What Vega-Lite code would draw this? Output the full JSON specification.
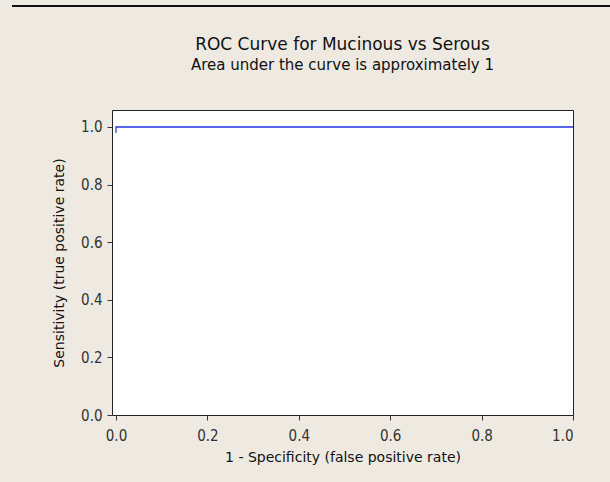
{
  "$schema": "https://vega.github.io/schema/vega-lite/v6.json",
  "width": 461,
  "height": 305,
  "autosize": "none",
  "padding": {"left": 112, "top": 110, "right": 37, "bottom": 67},
  "background": "#EEEAE1",
  "title": {
    "text": "ROC Curve for Mucinous vs Serous",
    "subtitle": "Area under the curve is approximately 1",
    "anchor": "middle",
    "offset": -69,
    "font": "DejaVu Sans",
    "fontSize": 17,
    "fontWeight": "normal",
    "color": "#111111",
    "subtitleFont": "DejaVu Sans",
    "subtitleFontSize": 15,
    "subtitleColor": "#111111",
    "subtitlePadding": 4
  },
  "config": {
    "view": {"stroke": "#222222", "strokeWidth": 1, "fill": "#FFFFFF"},
    "axis": {
      "grid": false,
      "domain": false,
      "tickColor": "#333333",
      "tickSize": 5,
      "labelFont": "DejaVu Sans Condensed",
      "labelFontSize": 15,
      "labelColor": "#333333",
      "titleFont": "DejaVu Sans",
      "titleFontSize": 14,
      "titleFontWeight": "normal",
      "titleColor": "#111111"
    }
  },
  "datasets": {
    "roc": [
      {"fpr": 0.0, "tpr": 0.98},
      {"fpr": 0.0, "tpr": 1.0},
      {"fpr": 1.0, "tpr": 1.0}
    ]
  },
  "layer": [
    {
      "data": {"name": "roc"},
      "mark": {"type": "line", "color": "#2233E6", "strokeWidth": 1.3, "clip": true},
      "encoding": {
        "x": {
          "field": "fpr",
          "type": "quantitative",
          "scale": {"domain": [-0.00875, 1.0], "nice": false, "zero": false},
          "axis": {
            "title": "1 - Specificity (false positive rate)",
            "values": [0, 0.2, 0.4, 0.6, 0.8, 1.0],
            "format": ".1f",
            "titlePadding": 7,
            "labelPadding": 8
          }
        },
        "y": {
          "field": "tpr",
          "type": "quantitative",
          "scale": {"domain": [0.0, 1.059], "nice": false, "zero": false},
          "axis": {
            "title": "Sensitivity (true positive rate)",
            "values": [0, 0.2, 0.4, 0.6, 0.8, 1.0],
            "format": ".1f",
            "titlePadding": 14,
            "labelPadding": 5
          }
        },
        "order": {"field": "fpr"}
      }
    },
    {
      "data": {"values": [{}]},
      "mark": {"type": "rule", "color": "#111111", "strokeWidth": 2, "clip": false},
      "encoding": {
        "x": {"datum": -0.2276, "type": "quantitative"},
        "x2": {"datum": 1.09},
        "y": {"datum": 1.42, "type": "quantitative"}
      }
    }
  ]
}
